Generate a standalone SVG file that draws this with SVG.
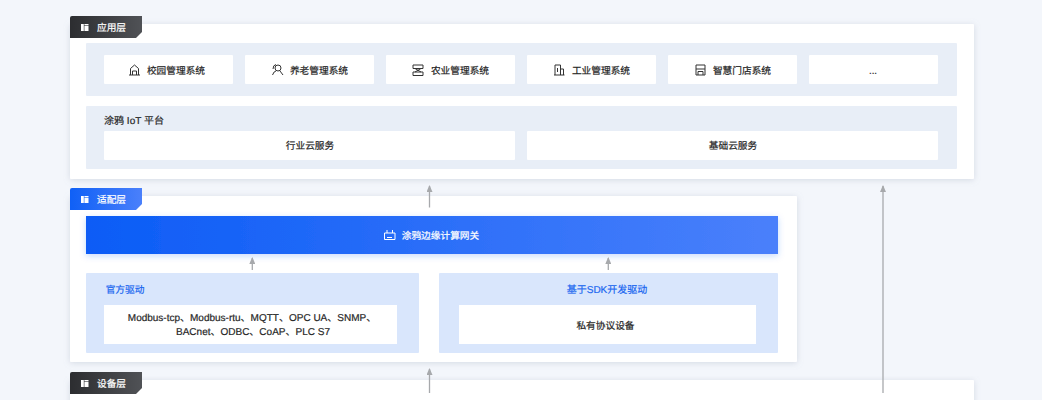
<svg xmlns="http://www.w3.org/2000/svg" width="1042" height="400" viewBox="0 0 1042 400">
<style>
text{font-family:"Liberation Sans","Noto Sans CJK SC",sans-serif;font-size:9.7px;fill:#262626;stroke:#262626;stroke-width:.2;text-anchor:middle;text-rendering:geometricPrecision}
.panel{fill:#fff;filter:url(#sh)}
.band{fill:#e8eef7}
.card{fill:#fff}
.soft{fill:#d9e6fc}
text.tagt{fill:#fff;stroke:#fff;text-anchor:start}
text.blue{fill:#1a66f0;stroke:#1a66f0}
text.white{fill:#fff;stroke:#fff}
text.t10{font-size:10px}
.ic{fill:none;stroke:#333;stroke-width:1}
.conn{stroke:#a7a9ac;stroke-width:1.3;fill:none;marker-end:url(#ah)}
</style>
<defs>
<filter id="sh" x="-5%" y="-10%" width="110%" height="125%"><feDropShadow dx="0" dy="1" stdDeviation="3" flood-color="#8a98ad" flood-opacity=".3"/></filter>
<filter id="sh2" x="-5%" y="-20%" width="110%" height="150%"><feDropShadow dx="0" dy="2" stdDeviation="3" flood-color="#1f66f5" flood-opacity=".25"/></filter>
<linearGradient id="blue" x1="0" x2="1" y1="0" y2="0"><stop offset="0" stop-color="#0b5cf6"/><stop offset="1" stop-color="#4a80fb"/></linearGradient>
<linearGradient id="dark" x1="0" x2="1" y1="0" y2="0"><stop offset="0" stop-color="#2c2d30"/><stop offset="1" stop-color="#505256"/></linearGradient>
<linearGradient id="tagb" x1="0" x2="1" y1="0" y2="0"><stop offset="0" stop-color="#0f60f6"/><stop offset="1" stop-color="#4a80fb"/></linearGradient>
<marker id="ah" viewBox="0 0 7 6" refX="6" refY="3" markerWidth="7" markerHeight="6" markerUnits="userSpaceOnUse" orient="auto"><path d="M0 0L7 3L0 6Z" fill="#a7a9ac"/></marker>
<g id="tagicon"><rect x="0" y="0" width="2.800" height="7" fill="#fff"/><rect x="3.400" y="0" width="4.100" height="1.400" fill="#fff"/><rect x="3.400" y="2" width="4.100" height="5" fill="#fff"/></g>
<path id="tagshape" d="M0 2Q0 0 2 0H72V16L66 22H0Z"/>
</defs>
<rect width="1042" height="400" fill="#f3f6fb"/>

<g id="layer-app">
<rect class="panel" x="70" y="24" width="904" height="155" rx="1"/>
<rect class="band" x="86" y="43" width="871" height="53" rx="1"/>
<rect class="band" x="86" y="106" width="871" height="63" rx="1"/>
<g id="tag-app"><use href="#tagshape" x="70" y="16" fill="url(#dark)"/><use href="#tagicon" x="81" y="24"/><text class="tagt" x="97" y="31">应用层</text></g>
</g>
<g id="n-campus"><rect class="card" x="104" y="55" width="129" height="29" rx="1"/><path class="ic" d="M130.500 75V68.500L134.500 65L138.500 68.500V75M129 75H140M132.500 75V71H136.500V75"/><text x="176" y="73.500">校园管理系统</text></g>
<g id="n-elder"><rect class="card" x="245" y="55" width="129" height="29" rx="1"/><circle class="ic" cx="278" cy="68" r="3"/><path class="ic" d="M272.500 75Q274 71 276 71M280 71L283 75M276 64.500Q273 65 273 69"/><text x="319" y="73.500">养老管理系统</text></g>
<g id="n-farm"><rect class="card" x="386" y="55" width="129" height="29" rx="1"/><path class="ic" d="M413 65H423V68.500H413ZM415 68.500L421 72M421 68.500L415 72M413 72H423V75.500H413Z"/><text x="460" y="73.500">农业管理系统</text></g>
<g id="n-industry"><rect class="card" x="527" y="55" width="129" height="29" rx="1"/><path class="ic" d="M555 75V65H560.500V75M560.500 69H563.500V75M554 75H564.500M557.500 68V72"/><text x="601" y="73.500">工业管理系统</text></g>
<g id="n-store"><rect class="card" x="668" y="55" width="129" height="29" rx="1"/><path class="ic" d="M696 65H705V75H696ZM696 69H705M698 75V71.500H703V75"/><text x="742" y="73.500">智慧门店系统</text></g>
<g id="n-more"><rect class="card" x="809" y="55" width="129" height="29" rx="1"/><text x="873" y="74">...</text></g>
<g id="n-iot"><text class="t10" x="134" y="124">涂鸦 IoT 平台</text></g>
<g id="n-industry-cloud"><rect class="card" x="104" y="131" width="411" height="29" rx="1"/><text x="310" y="149">行业云服务</text></g>
<g id="n-base-cloud"><rect class="card" x="527" y="131" width="411" height="29" rx="1"/><text x="733" y="149">基础云服务</text></g>

<g id="layer-device"><rect class="panel" x="70" y="380" width="904" height="40" rx="1"/></g>
<g id="layer-adapter"><rect class="panel" x="70" y="196" width="727" height="166" rx="1"/></g>
<g id="tag-adapter"><use href="#tagshape" x="70" y="188" fill="url(#tagb)"/><use href="#tagicon" x="81" y="196"/><text class="tagt" x="97" y="203">适配层</text></g>
<g id="tag-device"><use href="#tagshape" x="70" y="372" fill="url(#dark)"/><use href="#tagicon" x="81" y="380"/><text class="tagt" x="97" y="387">设备层</text></g>

<g id="n-gateway"><rect x="86" y="216" width="692" height="38" fill="url(#blue)" filter="url(#sh2)"/><path d="M384.500 233V239.500H395V233ZM387 233V230M392.500 233V230M387 237.500H392" fill="none" stroke="#fff"/><text class="white" x="440.500" y="239">涂鸦边缘计算网关</text></g>
<g id="n-official"><rect class="soft" x="86" y="273" width="333" height="80" rx="1"/><rect class="card" x="104" y="305" width="293" height="39"/><text class="blue" x="125" y="293">官方驱动</text><text class="t10" x="252" y="321">Modbus-tcp、Modbus-rtu、MQTT、OPC UA、SNMP、</text><text class="t10" x="253" y="335">BACnet、ODBC、CoAP、PLC S7</text></g>
<g id="n-sdk"><rect class="soft" x="439" y="273" width="339" height="80" rx="1"/><rect class="card" x="459" y="305" width="297" height="39"/><text class="blue t10" x="607" y="293">基于SDK开发驱动</text><text x="605.500" y="328.500">私有协议设备</text></g>

<g id="connectors">
<path class="conn" d="M429.500 207.500V186"/>
<path class="conn" d="M883 393V186"/>
<path class="conn" d="M429.500 393V369"/>
<path class="conn" d="M252.300 270V258"/>
<path class="conn" d="M608.300 270V258"/>
</g>
</svg>
